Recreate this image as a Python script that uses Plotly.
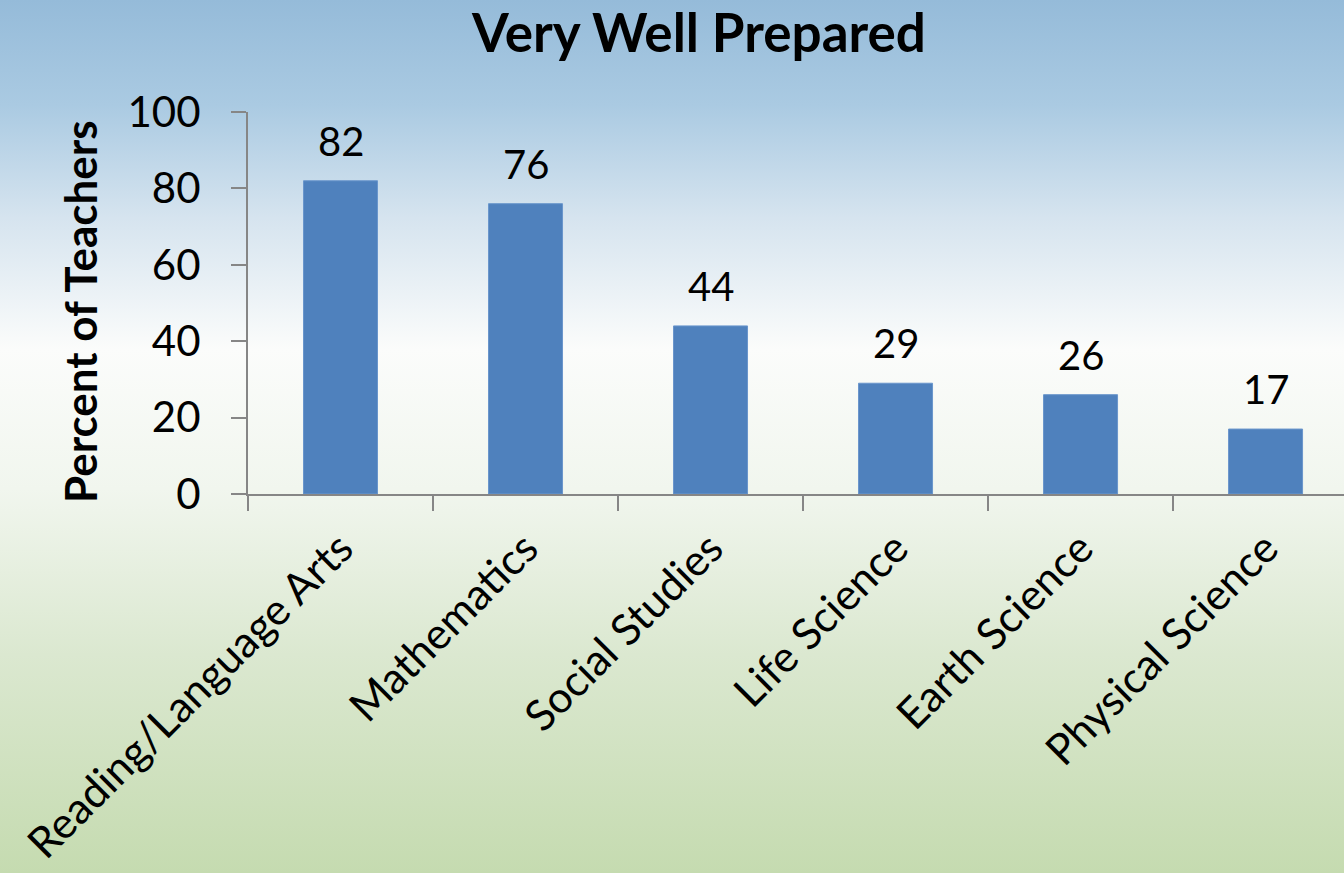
import base64
import plotly.graph_objects as go

categories = ["Reading/Language Arts", "Mathematics", "Social Studies",
              "Life Science", "Earth Science", "Physical Science"]
values = [82, 76, 44, 29, 26, 17]
y_ticks = [0, 20, 40, 60, 80, 100]

W, H = 1344, 873
L, R, T, B = 248, 0, 112, 379
pw, ph = W - L - R, H - T - B

svg = f'''<svg xmlns="http://www.w3.org/2000/svg" width="{W}" height="{H}" preserveAspectRatio="none">
<defs><linearGradient id="g" x1="0" y1="0" x2="0" y2="1">
<stop offset="0" stop-color="#95bbd9"/>
<stop offset="0.12" stop-color="#aacae2"/>
<stop offset="0.25" stop-color="#d6e4ef"/>
<stop offset="0.40" stop-color="#fbfcfb"/>
<stop offset="0.56" stop-color="#f1f6ee"/>
<stop offset="0.75" stop-color="#dbe8d0"/>
<stop offset="1" stop-color="#c5dbb0"/>
</linearGradient></defs>
<rect width="{W}" height="{H}" fill="url(#g)"/></svg>'''
src = "data:image/svg+xml;base64," + base64.b64encode(svg.encode()).decode()

FONT = "Lato, 'Open Sans', sans-serif"

fig = go.Figure()
fig.add_trace(go.Bar(x=categories, y=values, width=0.4,
                     marker=dict(color="#4f81bd", line=dict(color="#6a96cc", width=1)),
                     hoverinfo="x+y"))

for c, v in zip(categories, values):
    fig.add_annotation(x=c, y=v, text=str(v), showarrow=False, yanchor="bottom",
                       yshift=14, font=dict(size=40, color="black", family=FONT))

fig.add_layout_image(dict(source=src, xref="paper", yref="paper",
                          x=-L / pw, y=1 + T / ph, sizex=W / pw, sizey=H / ph,
                          xanchor="left", yanchor="top", sizing="stretch", layer="below"))

fig.update_layout(
    width=W, height=H,
    margin=dict(l=L, r=R, t=T, b=B, autoexpand=False),
    paper_bgcolor="white", plot_bgcolor="rgba(0,0,0,0)",
    showlegend=False,
    font=dict(family=FONT, color="black"),
    title=dict(text="<b>Very Well Prepared</b>", x=699 / W, xref="container",
               xanchor="center", y=1 - 33 / H, yref="container", yanchor="middle",
               font=dict(size=53, color="black", family=FONT)),
    xaxis=dict(range=[-0.5, 5.424], tickson="boundaries", ticks="outside", ticklen=15,
               tickcolor="#868686", tickwidth=2, showline=True, linecolor="#868686",
               linewidth=2, showgrid=False, tickangle=-45, automargin=False,
               ticklabelstandoff=10,
               tickfont=dict(size=43, family=FONT, color="black")),
    yaxis=dict(range=[0, 100], tickvals=y_ticks, ticks="outside", ticklen=15,
               tickcolor="#868686", tickwidth=2, showline=True, linecolor="#868686",
               linewidth=2, showgrid=False, zeroline=False, automargin=False,
               ticklabelstandoff=22,
               tickfont=dict(size=42, family=FONT, color="black")),
)

fig.add_annotation(text="<b>Percent of Teachers</b>", xref="paper", yref="paper",
                   x=(80 - L) / pw, y=(494 - 312) / ph, xanchor="center", yanchor="middle",
                   textangle=-90, showarrow=False,
                   font=dict(size=44, family=FONT, color="black"))

fig.write_html("out.html", config={"displayModeBar": False},
               post_script="document.body.style.margin='0';document.body.style.overflow='hidden';")
